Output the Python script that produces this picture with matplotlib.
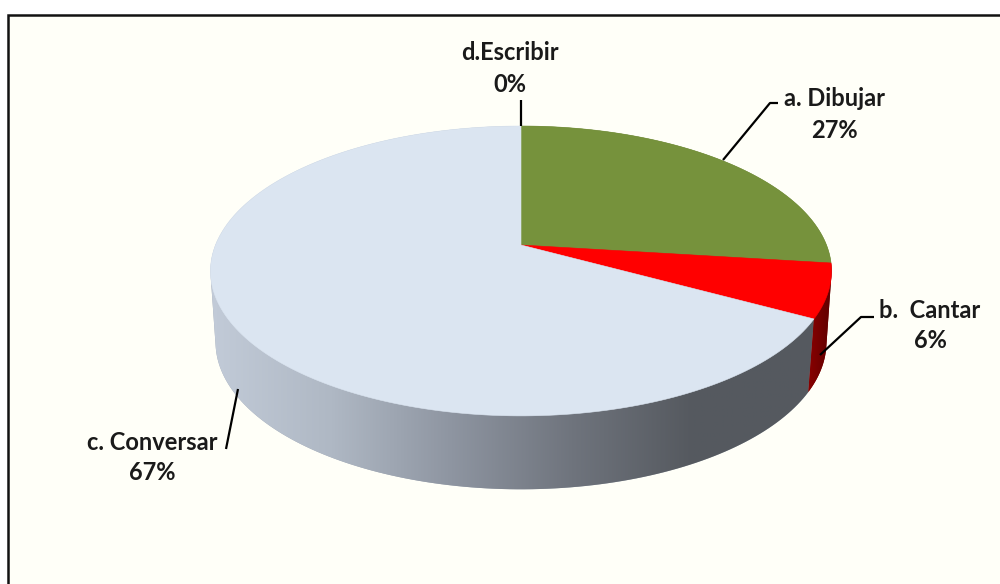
import numpy as np
import matplotlib
matplotlib.use("Agg")
import matplotlib.pyplot as plt
from matplotlib.colors import LinearSegmentedColormap
from matplotlib.patches import Polygon, Rectangle

# Slice data, clockwise from 12 o'clock
labels = ["a. Dibujar", "b.  Cantar", "c. Conversar", "d.Escribir"]
percent_labels = ["27%", "6%", "67%", "0%"]
values = [27, 6, 67, 0]
top_colors = ["#76923C", "#FF0000", "#DBE5F1", "#4BACC6"]
wall_colors = ["#5A6E2C", "#7A0000", "#A0A8B4", "#4BACC6"]

plt.rcParams["font.family"] = ["Lato", "DejaVu Sans"]


def project(theta, cx, cy, rx, ry, k):
    # perspective view of a circle, theta in radians clockwise from the top
    u = np.sin(theta)
    v = np.cos(theta)
    s = 1.0 / (1.0 + k * v)
    return np.column_stack((cx + rx * u * s, cy - ry * v * s))


def top_rim(theta):
    return project(theta, 521.0, 245.0, 305.5, 140.3, 0.179)


def bottom_rim(theta):
    return project(theta, 521.0, 317.0, 301.0, 143.0, 0.17)


def convex_hull(points):
    pts = sorted(map(tuple, points))

    def half(seq):
        out = []
        for p in seq:
            while len(out) > 1 and ((out[-1][0] - out[-2][0]) * (p[1] - out[-2][1])
                                    - (out[-1][1] - out[-2][1]) * (p[0] - out[-2][0])) <= 0:
                out.pop()
            out.append(p)
        return out[:-1]

    return np.array(half(pts) + half(pts[::-1]))


fig = plt.figure(figsize=(10, 5.84), dpi=100, facecolor="white")
ax = fig.add_axes([0, 0, 1, 1])
ax.set_xlim(0, 1000)
ax.set_ylim(584, 0)
ax.axis("off")

# Chart frame runs off the right and bottom of the picture
ax.add_patch(Rectangle((8, 15), 1010, 590, facecolor="#FFFFF8", edgecolor="#111111", linewidth=1.8))

edges = np.deg2rad(np.cumsum([0] + values) * 3.6)

# Side walls
wall_gray = LinearSegmentedColormap.from_list(
    "wall", ["#C2CBD8", "#AFB8C4", "#8E95A1", "#6F747D", "#55595F", "#555A60"])
wall_red = LinearSegmentedColormap.from_list("wallred", ["#8A0000", "#5E0000"])

for i, cmap in [(0, None), (2, wall_gray), (1, wall_red)]:
    arc = np.linspace(edges[i], edges[i + 1], 200)
    hull = Polygon(convex_hull(np.vstack((top_rim(arc), bottom_rim(arc)))), closed=True,
                   facecolor=wall_colors[i], edgecolor="none")
    ax.add_patch(hull)
    if cmap is not None:
        x0, x1 = hull.get_xy()[:, 0].min(), hull.get_xy()[:, 0].max()
        img = ax.imshow(np.linspace(0, 1, 256)[None, :], cmap=cmap, aspect="auto",
                        extent=(x0, x1, 500, 240), zorder=2)
        img.set_clip_path(hull)
ax.set_xlim(0, 1000)
ax.set_ylim(584, 0)

# Top surface, with the apex at the perspective centre
for i, val in enumerate(values):
    if val == 0:
        continue
    arc = np.linspace(edges[i], edges[i + 1], 200)
    ax.add_patch(Polygon(np.vstack(([[521.0, 245.0]], top_rim(arc))), closed=True,
                         facecolor=top_colors[i], edgecolor=top_colors[i], linewidth=0.4, zorder=3))

# Leader lines
leaders = [([723, 770, 778], [160, 103, 103]),
           ([820, 861, 874], [355, 317, 317]),
           ([238, 226], [389, 449]),
           ([521, 521], [100, 126])]
for xs, ys in leaders:
    ax.plot(xs, ys, color="black", linewidth=1.6, solid_capstyle="butt", zorder=4)

# Data labels
label_xy = [(834, 98), (930, 311), (152, 442), (510, 53)]
percent_xy = [(834, 130), (930, 341), (152, 473), (510, 85)]
for i in range(len(labels)):
    ax.text(*label_xy[i], labels[i], ha="center", va="center", fontsize=17,
            fontweight="bold", color="#1A1A1A", zorder=5)
    ax.text(*percent_xy[i], percent_labels[i], ha="center", va="center", fontsize=17,
            fontweight="bold", color="#1A1A1A", zorder=5)

fig.savefig("out.png", dpi=100)
